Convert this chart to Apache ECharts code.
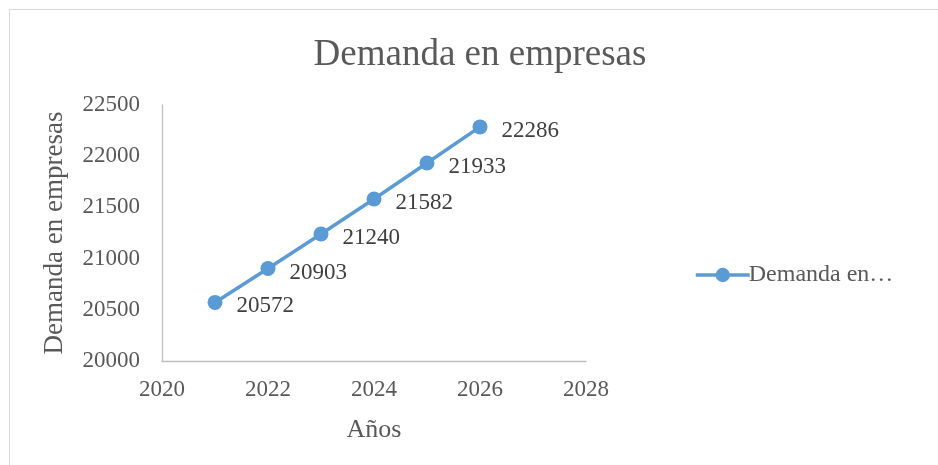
<!DOCTYPE html>
<html>
<head>
<meta charset="utf-8">
<script src="https://cdn.jsdelivr.net/npm/echarts@6/dist/echarts.min.js"></script>
<style>
  html, body { margin: 0; padding: 0; background: #fff; }
  #frame {
    position: absolute; left: 9px; top: 9px; width: 940px; height: 470px;
    border-left: 1px solid #d9d9d9; border-top: 1px solid #d9d9d9;
  }
  #chart { position: absolute; left: 0; top: 0; width: 938px; height: 465px; }
</style>
</head>
<body>
<div id="frame"></div>
<div id="chart"></div>
<script>
const years = [2021, 2022, 2023, 2024, 2025, 2026];
const demanda = [20572, 20903, 21240, 21582, 21933, 22286];
const seriesName = 'Demanda en empresas';

const font = '"Liberation Serif", "Times New Roman", serif';
const chart = echarts.init(document.getElementById('chart'));

const option = {
  backgroundColor: 'transparent',
  textStyle: { fontFamily: font },
  title: {
    text: 'Demanda en empresas',
    left: 475,
    textAlign: 'center',
    top: 32,
    textStyle: { fontFamily: font, fontSize: 37, fontWeight: 'normal', color: '#595959' }
  },
  legend: {
    left: 689,
    top: 258,
    itemWidth: 54,
    itemHeight: 18,
    itemGap: 0,
    formatter: function () { return 'Demanda en…'; },
    lineStyle: { width: 3.5, color: '#5b9bd5' },
    itemStyle: { color: '#5b9bd5' },
    textStyle: { fontFamily: font, fontSize: 24, color: '#595959', padding: [0, 0, 0, -6] },
    data: [seriesName]
  },
  grid: { left: 162, top: 105, right: 352, bottom: 104, containLabel: false },
  xAxis: {
    type: 'value',
    min: 2020, max: 2028, interval: 2,
    name: 'Años',
    nameLocation: 'middle',
    nameGap: 56,
    nameTextStyle: { fontFamily: font, fontSize: 26, color: '#595959' },
    axisLine: { lineStyle: { color: '#bfbfbf', width: 1.3 } },
    axisTick: { show: false },
    splitLine: { show: false },
    axisLabel: { fontFamily: font, fontSize: 23, color: '#595959', margin: 17, formatter: v => String(v) }
  },
  yAxis: {
    type: 'value',
    min: 20000, max: 22500, interval: 500,
    name: 'Demanda en empresas',
    nameLocation: 'middle',
    nameGap: 94,
    nameTextStyle: { fontFamily: font, fontSize: 27, color: '#595959' },
    axisLine: { show: true, lineStyle: { color: '#bfbfbf', width: 1.3 } },
    axisTick: { show: false },
    splitLine: { show: false },
    axisLabel: { fontFamily: font, fontSize: 23, color: '#595959', margin: 22, formatter: v => String(v) }
  },
  series: [{
    name: seriesName,
    type: 'line',
    data: years.map((y, i) => [y, demanda[i]]),
    symbol: 'circle',
    symbolSize: 15,
    lineStyle: { color: '#5b9bd5', width: 3.5 },
    itemStyle: { color: '#5b9bd5' },
    label: {
      show: true,
      position: 'right',
      distance: 14,
      offset: [0, 4],
      fontFamily: font,
      fontSize: 23,
      color: '#404040',
      formatter: p => p.value[1]
    },
    animation: false
  }],
  animation: false
};
chart.setOption(option);
</script>
</body>
</html>
